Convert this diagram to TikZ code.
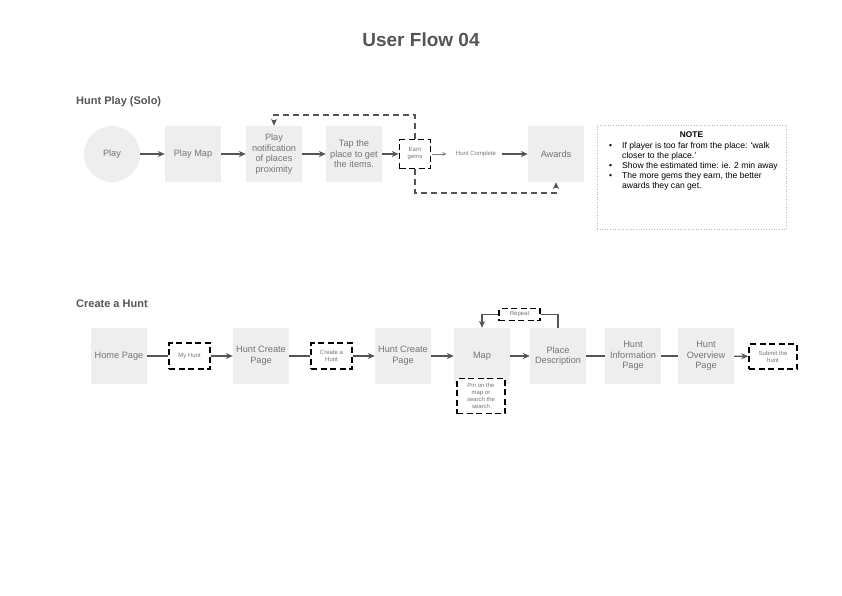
\documentclass[tikz,border=0pt]{standalone}
\usepackage{fontspec}
\setmainfont{Liberation Sans}
\usetikzlibrary{arrows.meta,positioning}
\definecolor{boxgray}{HTML}{EEEEEE}
\definecolor{txtgray}{HTML}{757575}
\definecolor{linegray}{HTML}{555555}
\tikzstyle{page}=[rectangle, fill=boxgray, minimum size=56pt, inner sep=1pt, align=center, text=txtgray, font=\fontsize{9.2}{10.6}\selectfont]
\tikzstyle{startnode}=[circle, fill=boxgray, minimum size=56pt, inner sep=0pt, text=txtgray, font=\fontsize{9.2}{10.6}\selectfont]
\tikzstyle{action}=[rectangle, draw=black, fill=white, line width=1.6pt, dash pattern=on 6pt off 3.5pt, inner sep=1pt, align=center, text=txtgray, font=\fontsize{6}{7}\selectfont]
\tikzstyle{heading}=[anchor=west, inner sep=0pt, text=linegray, font=\fontsize{11}{13}\selectfont\bfseries]
\tikzstyle{flow}=[draw=linegray, line width=1.4pt, -{Stealth[length=7pt, width=6pt]}]
\tikzstyle{link}=[draw=linegray, line width=1.4pt]
\tikzstyle{loopback}=[draw=linegray, line width=1.5pt, dash pattern=on 6pt off 4pt, -{Stealth[length=7pt, width=6pt]}]
\begin{document}
\begin{tikzpicture}[x=1pt, y=-1pt]
	\useasboundingbox (0,0) rectangle (842,595);
	\node[text=linegray, font=\fontsize{19}{22}\selectfont\bfseries] (title) at (421,40) {User Flow 04};

	% hunt play (solo)
	\node[heading] (playhead) at (76,102) {Hunt Play (Solo)};
	\node[startnode] (play) at (112,154) {Play};
	\node[page] (playmap) at (193,154) {Play Map};
	\node[page] (notif) at (274,154) {Play\\notification\\of places\\proximity};
	\node[page] (tap) at (354,154) {Tap the\\place to get\\the items.};
	\node[action, minimum width=31pt, minimum height=29pt] (earn) at (415,154) {Earn\\gems};
	\node[text=txtgray, font=\fontsize{6}{7}\selectfont, inner sep=1pt] (complete) at (476,154) {Hunt Complete};
	\node[page] (awards) at (556,154) {Awards};

	\draw[flow] (play) -- (playmap);
	\draw[flow] (playmap) -- (notif);
	\draw[flow] (notif) -- (tap);
	\draw[flow] (tap) -- (earn);
	\draw[draw=gray, line width=0.9pt, -{Stealth[length=4pt, width=4pt]}] (earn.east) ++(1,0) -- ++(14,0);
	\draw[flow] (complete.east) ++(5,0) -- (awards.west);
	\coordinate (toploop) at (415,115);
	\coordinate (botloop) at (415,193);
	\draw[loopback] (earn.north) -- (toploop) -| (notif.north);
	\draw[loopback] (earn.south) -- (botloop) -| (awards.south);

	% note
	\node[draw=gray!55, dotted, line width=0.6pt, minimum width=189pt, minimum height=104pt] (note) at (691.5,177) {};
	\node[font=\fontsize{8.3}{9}\selectfont\bfseries] (notetitle) at (691.5,135) {NOTE};
	\node[anchor=north west, inner sep=0pt, font=\fontsize{8.6}{10}\selectfont] (notebody) at (609,141)
	{\begin{tabular}{@{}p{13pt}@{}l@{}}
	\textbullet & If player is too far from the place: ‘walk\\
	 & closer to the place.’\\
	\textbullet & Show the estimated time: ie. 2 min away\\
	\textbullet & The more gems they earn, the better\\
	 & awards they can get.
	\end{tabular}};

	% create a hunt
	\node[heading] (createhead) at (76,304) {Create a Hunt};
	\node[page] (home) at (119,356) {Home Page};
	\node[action, minimum width=41pt, minimum height=26pt] (myhunt) at (189.5,356) {My Hunt};
	\node[page] (create1) at (261,356) {Hunt Create\\Page};
	\node[action, minimum width=41pt, minimum height=26pt] (newhunt) at (331.5,356) {Create a\\Hunt};
	\node[page] (create2) at (403,356) {Hunt Create\\Page};
	\node[page] (map) at (482,356) {Map};
	\node[page] (place) at (558,356) {Place\\Description};
	\node[page] (info) at (633,356) {Hunt\\Information\\Page};
	\node[page] (overview) at (706,356) {Hunt\\Overview\\Page};
	\node[action, minimum width=48pt, minimum height=25pt] (submit) at (773,356.5) {Submit the\\hunt};
	\node[action, minimum width=48pt, minimum height=35pt] (pin) at (481,396) {Pin on the\\map or\\search the\\search};
	\node[action, minimum width=41pt, minimum height=12pt] (repeat) at (519.5,314.5) {Repeat};

	\draw[link] (home) -- (myhunt);
	\draw[flow] (myhunt) -- (create1);
	\draw[link] (create1) -- (newhunt);
	\draw[flow] (newhunt) -- (create2);
	\draw[flow] (create2) -- (map);
	\draw[flow] (map) -- (place);
	\draw[link] (place) -- (info);
	\draw[link] (info) -- (overview);
	\draw[flow] (overview) -- (submit);
	\draw[link] (place.north) |- (repeat.east);
	\draw[flow] (repeat.west) -| (map.north);
\end{tikzpicture}
\end{document}
